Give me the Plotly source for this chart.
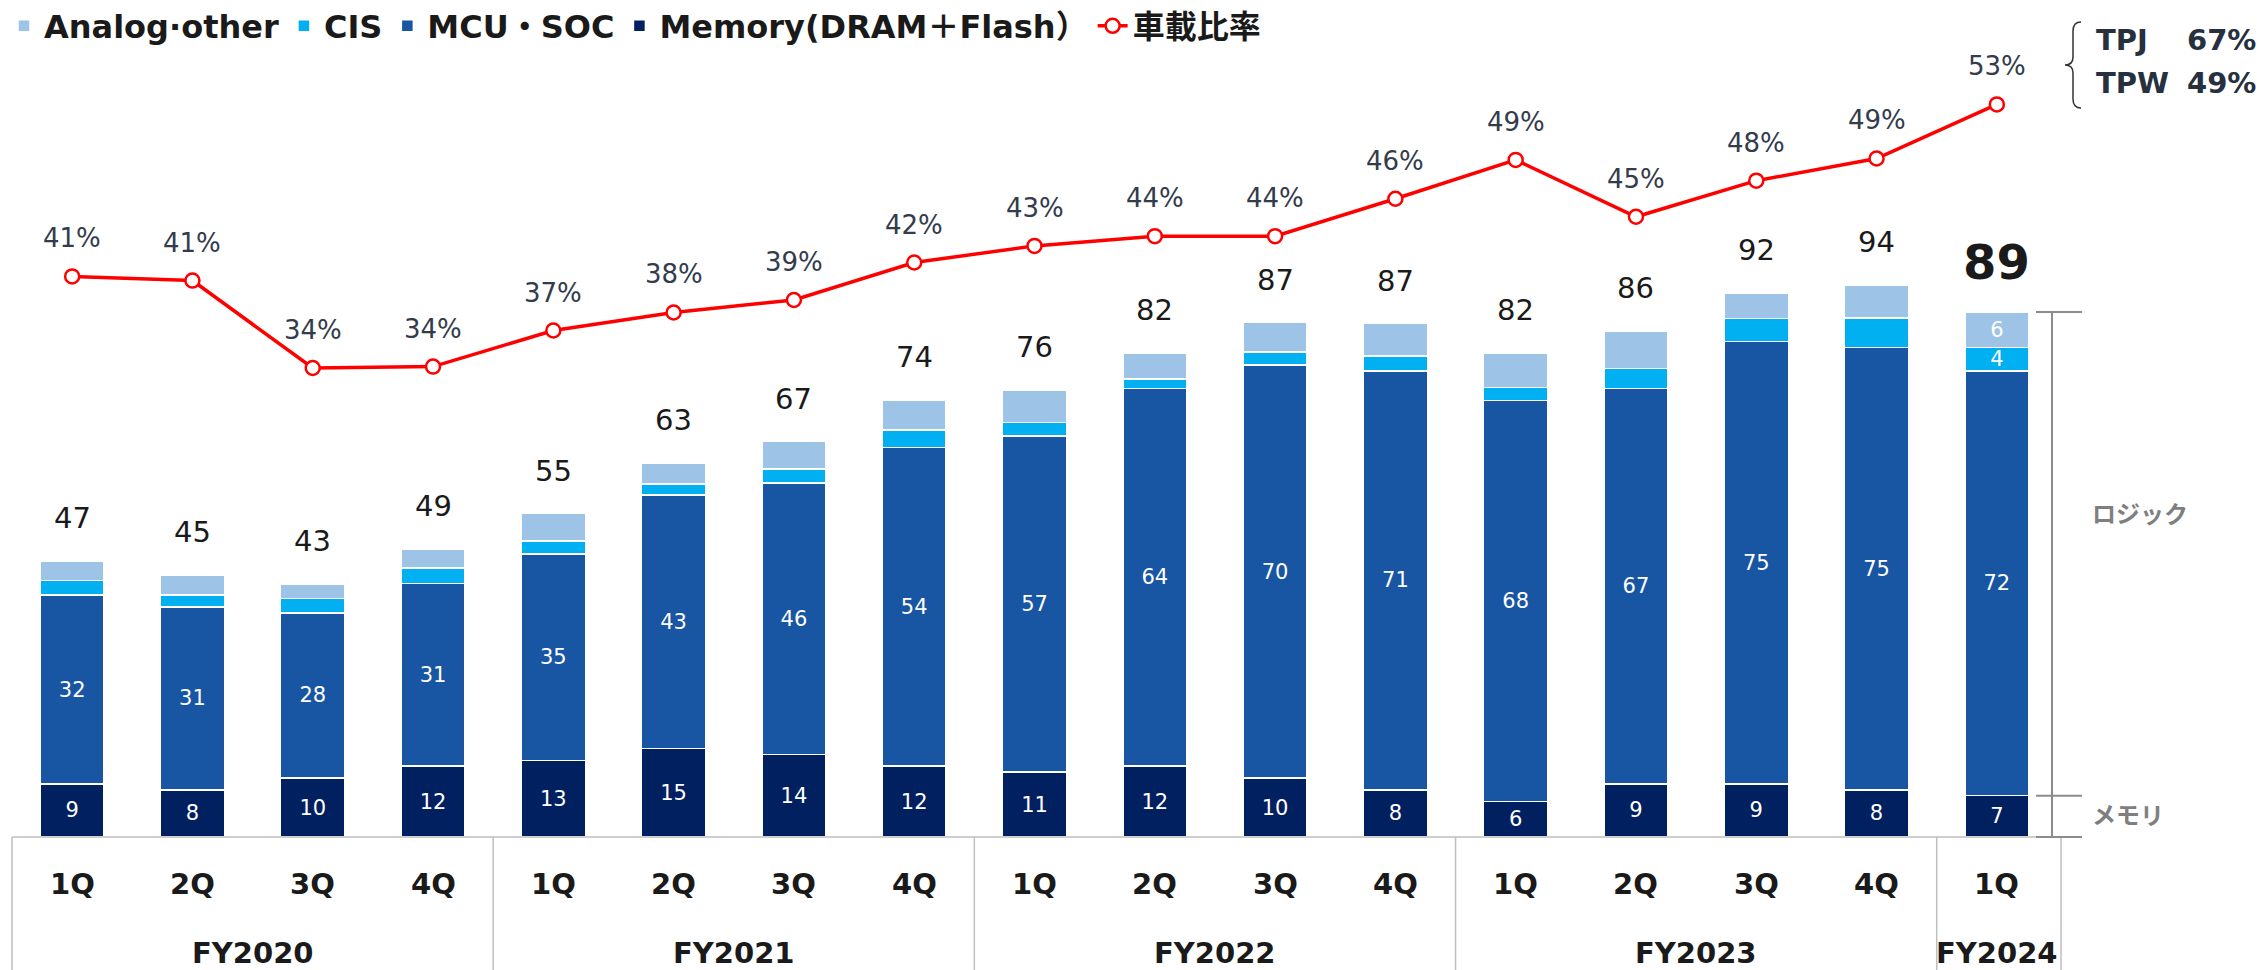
import plotly.graph_objects as go

# ---------------- data ----------------
fiscal_years = ["FY2020", "FY2021", "FY2022", "FY2023", "FY2024"]
quarters_per_year = [4, 4, 4, 4, 1]
quarter_names = ["1Q", "2Q", "3Q", "4Q"]

memory = [9, 8, 10, 12, 13, 15, 14, 12, 11, 12, 10, 8, 6, 9, 9, 8, 7]
mcu_soc = [32, 31, 28, 31, 35, 43, 46, 54, 57, 64, 70, 71, 68, 67, 75, 75, 72]
cis = [2.5, 2.0, 2.4, 2.6, 2.2, 1.8, 2.4, 3.0, 2.3, 1.6, 2.2, 2.5, 2.2, 3.4, 3.9, 5.0, 4]
analog_other = [3.3, 3.4, 2.4, 3.2, 4.6, 3.6, 4.6, 5.0, 5.5, 4.4, 5.0, 5.5, 5.8, 6.4, 4.3, 5.6, 6]
total_labels = ["47", "45", "43", "49", "55", "63", "67", "74", "76", "82", "87", "87", "82", "86", "92", "94", "89"]
auto_ratio = [40.6, 40.3, 34.0, 34.1, 36.7, 38.0, 38.9, 41.6, 42.8, 43.5, 43.5, 46.2, 49.0, 44.9, 47.5, 49.1, 53.0]
ratio_labels = ["41%", "41%", "34%", "34%", "37%", "38%", "39%", "42%", "43%", "44%", "44%", "46%", "49%", "45%", "48%", "49%", "53%"]
side_labels = ["ロジック", "メモリ"]
tp_labels = [("TPJ", "67%"), ("TPW", "49%")]

# ---------------- derived ----------------
categories, quarter_of = [], []
for fy, n in zip(fiscal_years, quarters_per_year):
    for q in quarter_names[:n]:
        categories.append(f"{fy} {q}")
        quarter_of.append(q)
N = len(categories)
stack_tops = [m + s + c + a for m, s, c, a in zip(memory, mcu_soc, cis, analog_other)]
last = N - 1

def latest_only(vals):
    return [f"{v:g}" if i == last else "" for i, v in enumerate(vals)]

# ---------------- layout geometry ----------------
WIDTH, HEIGHT = 2264, 970
L, R, T, B = 12, 207, 60, 133
PW, PH = WIDTH - L - R, HEIGHT - T - B
YMAX = 131.7
Y2 = [0.19, 56.2]

def xp(px):
    return (px - L) / PW

def yp(py):
    return (HEIGHT - B - py) / PH

FONT = "Verdana, DejaVu Sans, Noto Sans CJK JP, sans-serif"
C_ANALOG, C_CIS, C_MCU, C_MEM = "#9DC3E6", "#00B0F0", "#1855A3", "#002060"
RED = "#FF0000"

fig = go.Figure()

bar_common = dict(textposition="inside", insidetextanchor="middle", textangle=0,
                  constraintext="none", hoverinfo="skip",
                  textfont=dict(color="white", size=21, family=FONT))

fig.add_trace(go.Bar(x=categories, y=memory, name="Memory(DRAM＋Flash）", legendrank=4,
                     marker=dict(color=C_MEM, line=dict(color="white", width=1.5)),
                     text=[str(v) for v in memory], **bar_common))
fig.add_trace(go.Bar(x=categories, y=mcu_soc, name="MCU・SOC", legendrank=3,
                     marker=dict(color=C_MCU, line=dict(color="white", width=1.5)),
                     text=[str(v) for v in mcu_soc], **bar_common))
fig.add_trace(go.Bar(x=categories, y=cis, name="CIS", legendrank=2,
                     marker=dict(color=C_CIS, line=dict(color="white", width=1.5)),
                     text=latest_only(cis), **bar_common))
fig.add_trace(go.Bar(x=categories, y=analog_other, name="Analog·other", legendrank=1,
                     marker=dict(color=C_ANALOG, line=dict(color="white", width=1.5)),
                     text=latest_only(analog_other), **bar_common))

fig.add_trace(go.Scatter(x=categories, y=auto_ratio, name="車載比率", legendrank=5, yaxis="y2",
                         mode="lines+markers", cliponaxis=False, hoverinfo="skip",
                         line=dict(color=RED, width=3.5),
                         marker=dict(size=14, color="white", line=dict(color=RED, width=2.5))))

annotations = []
# total labels above bars
for i, (c, top, lab) in enumerate(zip(categories, stack_tops, total_labels)):
    big = i == last
    annotations.append(dict(x=c, y=top, xref="x", yref="y", text=lab, showarrow=False,
                            yanchor="bottom", yshift=20 if big else 24,
                            font=dict(size=48 if big else 29, color="#1a1a1a", family=FONT,
                                      weight="bold" if big else "normal")))
# ratio labels
for c, v, lab in zip(categories, auto_ratio, ratio_labels):
    annotations.append(dict(x=c, y=v, xref="x", yref="y2", text=lab, showarrow=False,
                            yanchor="middle", yshift=38,
                            font=dict(size=26, color="#333C4C", family=FONT)))
# quarter labels
for c, q in zip(categories, quarter_of):
    annotations.append(dict(x=c, y=0, xref="x", yref="paper", text=q, showarrow=False,
                            yanchor="middle", yshift=-47,
                            font=dict(size=29, color="#1a1a1a", family=FONT, weight="bold")))
# fiscal-year labels
start = 0
boundaries = [0]
for fy, n in zip(fiscal_years, quarters_per_year):
    center = start + (n - 1) / 2
    annotations.append(dict(x=center, y=0, xref="x", yref="paper", text=fy, showarrow=False,
                            yanchor="middle", yshift=-116,
                            font=dict(size=29, color="#1a1a1a", family=FONT, weight="bold")))
    start += n
    boundaries.append(start)

# side bracket labels (logic / memory)
annotations.append(dict(x=xp(2090), y=yp(515), xref="paper", yref="paper", text=side_labels[0],
                        showarrow=False, xanchor="left", yanchor="middle",
                        font=dict(size=24, color="#7F7F7F", family=FONT, weight="bold")))
annotations.append(dict(x=xp(2090), y=memory[last] / 2 / YMAX, xref="paper", yref="paper",
                        text=side_labels[1], showarrow=False, xanchor="left", yanchor="middle",
                        font=dict(size=24, color="#7F7F7F", family=FONT, weight="bold")))
# TPJ / TPW
for (name, val), py in zip(tp_labels, [40, 83]):
    annotations.append(dict(x=xp(2094), y=yp(py), xref="paper", yref="paper", text=name,
                            showarrow=False, xanchor="left", yanchor="middle",
                            font=dict(size=29, color="#26303E", family=FONT, weight="bold")))
    annotations.append(dict(x=xp(2258), y=yp(py), xref="paper", yref="paper", text=val,
                            showarrow=False, xanchor="right", yanchor="middle",
                            font=dict(size=29, color="#26303E", family=FONT, weight="bold")))

shapes = []
TABLE = "#BFBFBF"
shapes.append(dict(type="line", xref="paper", yref="paper", x0=0, x1=xp(2061), y0=0, y1=0,
                   line=dict(color=TABLE, width=1.5)))
for bidx in boundaries:
    xx = bidx / N if bidx < N else xp(2061)
    shapes.append(dict(type="line", xref="paper", yref="paper", x0=xx, x1=xx, y0=0, y1=yp(HEIGHT),
                       line=dict(color=TABLE, width=1.5)))
# bracket
GRAY = "#8C8C8C"
top_p = stack_tops[last] / YMAX
mid_p = memory[last] / YMAX
shapes.append(dict(type="line", xref="paper", yref="paper", x0=xp(2052), x1=xp(2052), y0=0, y1=top_p,
                   line=dict(color=GRAY, width=2)))
for yy in (top_p, mid_p, 0):
    shapes.append(dict(type="line", xref="paper", yref="paper", x0=xp(2036), x1=xp(2082), y0=yy, y1=yy,
                       line=dict(color=GRAY, width=2)))
# curly brace
bx = [2081, 2073, 2073, 2073, 2073, 2065, 2073, 2073, 2073, 2073, 2081]
by = [22, 22, 31, 57, 65, 65, 65, 73, 99, 108, 108]
P = [(xp(a), yp(b)) for a, b in zip(bx, by)]
path = (f"M{P[0][0]},{P[0][1]} Q{P[1][0]},{P[1][1]} {P[2][0]},{P[2][1]} "
        f"L{P[3][0]},{P[3][1]} Q{P[4][0]},{P[4][1]} {P[5][0]},{P[5][1]} "
        f"Q{P[6][0]},{P[6][1]} {P[7][0]},{P[7][1]} L{P[8][0]},{P[8][1]} "
        f"Q{P[9][0]},{P[9][1]} {P[10][0]},{P[10][1]}")
shapes.append(dict(type="path", xref="paper", yref="paper", path=path,
                   line=dict(color="#333333", width=1.5)))

fig.update_layout(
    width=WIDTH, height=HEIGHT, autosize=False,
    margin=dict(l=L, r=R, t=T, b=B, pad=0, autoexpand=False),
    paper_bgcolor="white", plot_bgcolor="white",
    barmode="stack", bargap=0.468,
    font=dict(family=FONT, color="#1a1a1a"),
    xaxis=dict(type="category", range=[-0.5, N - 0.5], showticklabels=False, showgrid=False,
               zeroline=False, showline=False, ticks=""),
    yaxis=dict(range=[0, YMAX], visible=False, showgrid=False),
    yaxis2=dict(range=Y2, visible=False, overlaying="y", showgrid=False),
    legend=dict(orientation="h", x=xp(4), y=yp(26), xanchor="left", yanchor="middle",
                font=dict(size=32, family=FONT, weight="bold", color="#1a1a1a"),
                traceorder="normal", itemwidth=30, tracegroupgap=0, bgcolor="rgba(0,0,0,0)"),
    annotations=annotations,
    shapes=shapes,
    showlegend=True,
)

fig.write_html("out.html", config={"displayModeBar": False},
               post_script="document.body.style.margin='0';")
